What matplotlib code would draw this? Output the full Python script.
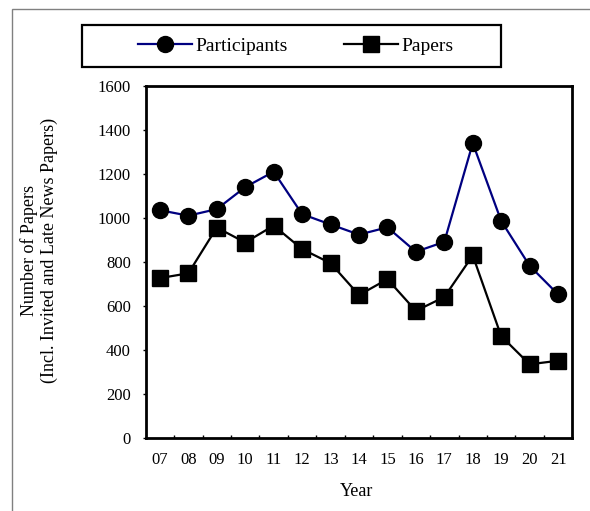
import numpy as np
import matplotlib
matplotlib.use('Agg')
import matplotlib.pyplot as plt
from matplotlib.patches import Rectangle

plt.rcParams['font.family'] = ['Liberation Serif', 'DejaVu Serif']

years = ['07', '08', '09', '10', '11', '12', '13', '14', '15', '16', '17', '18', '19', '20', '21']
participants = [1035, 1010, 1040, 1140, 1210, 1017, 970, 924, 957, 846, 891, 1340, 986, 782, 652]
papers = [726, 748, 956, 888, 965, 858, 794, 649, 721, 577, 640, 829, 462, 334, 350]
y_ticks = [0, 200, 400, 600, 800, 1000, 1200, 1400, 1600]

W, H = 590, 511
fig = plt.figure(figsize=(W/100, H/100), dpi=100)

# outer gray frame (runs off the right/bottom edge)
fig.patches.append(Rectangle((12/W, -0.1), 1.2, (H - 9)/H + 0.1, transform=fig.transFigure,
                             fill=False, edgecolor='#808080', linewidth=1.0))

ax = fig.add_axes([145.7/W, (H - 437.7)/H, (572.3 - 145.7)/W, (437.7 - 86)/H])
x = np.arange(len(years))
l1, = ax.plot(x, participants, color='#000080', lw=1.6, marker='o', ms=11.5,
              mfc='black', mec='black', label='Participants')
l2, = ax.plot(x, papers, color='black', lw=1.6, marker='s', ms=11,
              mfc='black', mec='black', label='Papers')

ax.set_xlim(-0.5, len(years) - 0.5)
ax.set_ylim(0, 1600)
ax.set_yticks(y_ticks)
ax.set_xticks(x)
ax.set_xticklabels(years)
ax.set_xticks(np.arange(0.5, len(years) - 1, 1), minor=True)
ax.tick_params(axis='x', which='major', length=0, pad=10, labelsize=12)
ax.tick_params(axis='x', which='minor', direction='in', length=2.5, width=1)
ax.tick_params(axis='y', direction='out', length=2, width=1, pad=8.6, labelsize=12)
for s in ax.spines.values():
    s.set_linewidth(2.0)

fig.text(357/W, (H - 491.7)/H, 'Year', ha='center', va='center', fontsize=13)
fig.text(39/W, (H - 250)/H, 'Number of Papers\n(Incl. Invited and Late News Papers)',
         rotation=90, ha='center', va='center', multialignment='center', fontsize=13)

# legend box
fig.patches.append(Rectangle((82/W, (H - 67)/H), (501 - 82)/W, 42/H, transform=fig.transFigure,
                             fill=False, edgecolor='black', linewidth=1.6))
fig.legend(handles=[l1, l2], loc='center', bbox_to_anchor=(296/W, (H - 46)/H),
           ncol=2, frameon=False, fontsize=14, handlelength=2.74, handletextpad=0.2,
           columnspacing=2.9, borderpad=0)

fig.savefig('out.png', dpi=100)
